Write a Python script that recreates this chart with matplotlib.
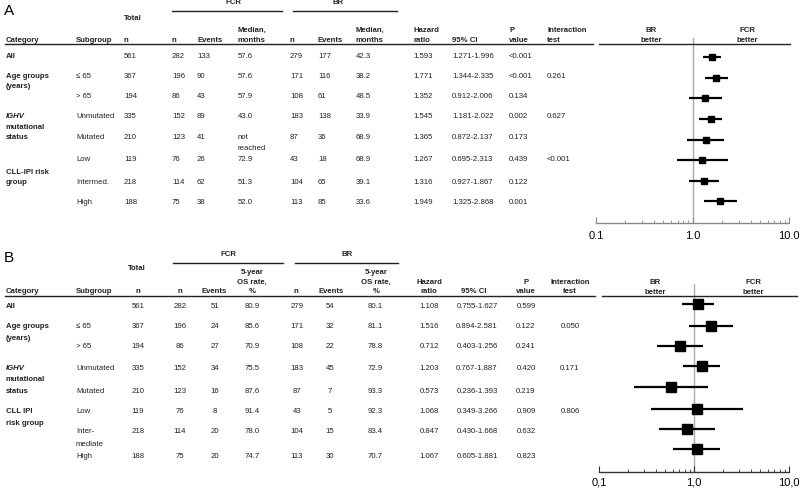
import matplotlib
matplotlib.use("Agg")
import matplotlib.pyplot as plt
from matplotlib.ticker import FixedLocator, FixedFormatter, NullFormatter

plt.rcParams["font.family"] = ["Liberation Sans", "DejaVu Sans"]

W, H = 800, 489

# ---- data, panel A (PFS) ----
subgroups_a = ["", "≤ 65", "> 65", "Unmutated", "Mutated", "Low", "Intermed.", "High"]
total_a = [561, 367, 194, 335, 210, 119, 218, 188]
fcr_n_a = [282, 196, 86, 152, 123, 76, 114, 75]
fcr_ev_a = [133, 90, 43, 89, 41, 26, 62, 38]
fcr_med_a = ["57.6", "57.6", "57.9", "43.0", "not\nreached", "72.9", "51.3", "52.0"]
br_n_a = [279, 171, 108, 183, 87, 43, 104, 113]
br_ev_a = [177, 116, 61, 138, 36, 18, 65, 85]
br_med_a = ["42.3", "38.2", "48.5", "33.9", "68.9", "68.9", "39.1", "33.6"]
hr_a = [1.593, 1.771, 1.352, 1.545, 1.365, 1.267, 1.316, 1.949]
lo_a = [1.271, 1.344, 0.912, 1.181, 0.872, 0.695, 0.927, 1.325]
hi_a = [1.996, 2.335, 2.006, 2.022, 2.137, 2.313, 1.867, 2.868]
p_a = ["<0.001", "<0.001", "0.134", "0.002", "0.173", "0.439", "0.122", "0.001"]
inter_a = ["", "0.261", "", "0.627", "", "<0.001", "", ""]

# ---- data, panel B (OS) ----
subgroups_b = ["", "≤ 65", "> 65", "Unmutated", "Mutated", "Low", "Inter-\nmediate", "High"]
total_b = [561, 367, 194, 335, 210, 119, 218, 188]
fcr_n_b = [282, 196, 86, 152, 123, 76, 114, 75]
fcr_ev_b = [51, 24, 27, 34, 16, 8, 20, 20]
fcr_os_b = ["80.9", "85.6", "70.9", "75.5", "87.6", "91.4", "78.0", "74.7"]
br_n_b = [279, 171, 108, 183, 87, 43, 104, 113]
br_ev_b = [54, 32, 22, 45, 7, 5, 15, 30]
br_os_b = ["80.1", "81.1", "78.8", "72.9", "93.3", "92.3", "83.4", "70.7"]
hr_b = [1.108, 1.516, 0.712, 1.203, 0.573, 1.068, 0.847, 1.067]
lo_b = [0.755, 0.894, 0.403, 0.767, 0.236, 0.349, 0.430, 0.605]
hi_b = [1.627, 2.581, 1.256, 1.887, 1.393, 3.266, 1.668, 1.881]
p_b = ["0.599", "0.122", "0.241", "0.420", "0.219", "0.909", "0.632", "0.823"]
inter_b = ["", "0.050", "", "0.171", "", "0.806", "", ""]

tick_labels_a = ["0.1", "1.0", "10.0"]
tick_labels_b = ["0,1", "1,0", "10,0"]

# ---- layout (pixel rows) ----
rows_a = [57, 76, 96, 117, 138, 160, 182, 203]
marks_a = [58, 79, 99, 120, 141, 161, 182, 202]
rows_b = [306, 327, 347, 368, 392, 412, 432, 457]
marks_b = [305, 327, 347, 367, 388, 410, 430, 450]

FS = 5.6
TXT = "#222222"

fig = plt.figure(figsize=(W / 100, H / 100), dpi=100)


def t(x, y, s, ha="left", bold=False, italic=False, size=FS, color=TXT, lh=11):
    for i, line in enumerate(str(s).split("\n")):
        fig.text(x / W, 1 - (y + i * lh) / H, line, ha=ha, va="center", fontsize=size,
                 fontweight="bold" if bold else "normal",
                 fontstyle="italic" if italic else "normal", color=color)


def hline(x0, x1, y, lw=1.0, color="#222222"):
    fig.add_artist(plt.Line2D([x0 / W, x1 / W], [1 - y / H, 1 - y / H], lw=lw, color=color))


def forest(left, right, top, bottom, hr, lo, hi, ys, msize, labels, axcolor, pad):
    ax = fig.add_axes([left / W, 1 - bottom / H, (right - left) / W, (bottom - top) / H])
    ax.set_xscale("log")
    ax.set_xlim(0.1, 10)
    ax.set_ylim(bottom, top)
    ax.axvline(1, color="#aaaaaa", lw=1, zorder=0)
    for h, l, u, y in zip(hr, lo, hi, ys):
        ax.plot([l, u], [y, y], color="black", lw=1.6, solid_capstyle="butt", clip_on=False)
        ax.plot(h, y, marker="s", ms=msize, color="black", clip_on=False)
    for s in ["top", "left", "right"]:
        ax.spines[s].set_visible(False)
    ax.spines["bottom"].set_color(axcolor)
    ax.spines["bottom"].set_linewidth(1)
    ax.set_yticks([])
    ax.xaxis.set_major_locator(FixedLocator([0.1, 1, 10]))
    ax.xaxis.set_major_formatter(FixedFormatter(labels))
    ax.xaxis.set_minor_locator(FixedLocator([0.2, 0.3, 0.4, 0.5, 0.6, 0.7, 0.8, 0.9,
                                             2, 3, 4, 5, 6, 7, 8, 9]))
    ax.xaxis.set_minor_formatter(NullFormatter())
    ax.tick_params(axis="x", which="major", direction="in", length=4, color=axcolor,
                   labelsize=8, pad=pad)
    ax.tick_params(axis="x", which="minor", direction="in", length=2.5, color=axcolor)
    ax.patch.set_alpha(0)
    return ax


# ================= Panel A =================
t(4, 11, "A", size=11, color="black")
t(124, 18, "Total", bold=True)
t(233, 3, "FCR", ha="center", bold=True)
t(338, 3, "BR", ha="center", bold=True)
hline(172, 282, 12)
hline(293, 397, 12)
t(237, 30, "Median,", bold=True)
t(355, 30, "Median,", bold=True)
t(413, 30, "Hazard", bold=True)
t(509, 30, "P", bold=True)
t(547, 30, "Interaction", bold=True)
for x, s in [(6, "Category"), (76, "Subgroup"), (124, "n"), (172, "n"), (197, "Events"),
             (237, "months"), (290, "n"), (318, "Events"), (355, "months"),
             (413, "ratio"), (452, "95% CI"), (509, "value"), (547, "test")]:
    t(x, 41, s, bold=True)
hline(5, 593, 45)
hline(599, 790, 45)
t(651, 31, "BR", ha="center", bold=True)
t(651, 41, "better", ha="center", bold=True)
t(747, 31, "FCR", ha="center", bold=True)
t(747, 41, "better", ha="center", bold=True)

t(6, rows_a[0], "All", bold=True)
t(6, rows_a[1], "Age groups\n(years)", bold=True, lh=11)
t(6, rows_a[3], "IGHV", bold=True, italic=True)
t(6, rows_a[3] + 10.5, "mutational\nstatus", bold=True, lh=10.5)
t(6, rows_a[5] + 12, "CLL-IPI risk\ngroup", bold=True, lh=10.5)

for i, y in enumerate(rows_a):
    t(76, y, subgroups_a[i])
    t(124, y, total_a[i])
    t(172, y, fcr_n_a[i])
    t(197, y, fcr_ev_a[i])
    t(238, y, fcr_med_a[i], lh=10)
    t(290, y, br_n_a[i])
    t(318, y, br_ev_a[i])
    t(356, y, br_med_a[i])
    t(413, y, f"{hr_a[i]:.3f}")
    t(452, y, f"{lo_a[i]:.3f}-{hi_a[i]:.3f}")
    t(509, y, p_a[i])
    t(547, y, inter_a[i])

forest(596, 789, 39, 224, hr_a, lo_a, hi_a, marks_a, 5, tick_labels_a, "#888888", 5)

# ================= Panel B =================
t(4, 258, "B", size=11, color="black")
t(137, 268, "Total", ha="center", bold=True)
t(228, 255, "FCR", ha="center", bold=True)
t(347, 255, "BR", ha="center", bold=True)
hline(173, 283, 264)
hline(295, 398, 264)
for x in (252, 376):
    t(x, 272, "5-year", ha="center", bold=True)
    t(x, 282, "OS rate,", ha="center", bold=True)
    t(x, 292, "%", ha="center", bold=True)
t(429, 282, "Hazard", ha="center", bold=True)
t(526, 282, "P", ha="center", bold=True)
t(570, 282, "Interaction", ha="center", bold=True)
t(6, 292, "Category", bold=True)
t(76, 292, "Subgroup", bold=True)
for x, s in [(138, "n"), (180, "n"), (214, "Events"), (296, "n"), (331, "Events"),
             (429, "ratio"), (474, "95% CI"), (526, "value"), (570, "test")]:
    t(x, 292, s, ha="center", bold=True)
hline(5, 595, 297)
hline(602, 797, 297)
t(655, 282, "BR", ha="center", bold=True)
t(655, 293, "better", ha="center", bold=True)
t(753, 282, "FCR", ha="center", bold=True)
t(753, 293, "better", ha="center", bold=True)

t(6, rows_b[0], "All", bold=True)
t(6, rows_b[1], "Age groups\n(years)", bold=True, lh=12)
t(6, rows_b[3], "IGHV", bold=True, italic=True)
t(6, rows_b[3] + 12, "mutational\nstatus", bold=True, lh=12)
t(6, rows_b[5], "CLL IPI\nrisk group", bold=True, lh=12)

for i, y in enumerate(rows_b):
    t(76, y, subgroups_b[i], lh=13)
    t(138, y, total_b[i], ha="center")
    t(180, y, fcr_n_b[i], ha="center")
    t(215, y, fcr_ev_b[i], ha="center")
    t(252, y, fcr_os_b[i], ha="center")
    t(297, y, br_n_b[i], ha="center")
    t(330, y, br_ev_b[i], ha="center")
    t(375, y, br_os_b[i], ha="center")
    t(429, y, f"{hr_b[i]:.3f}", ha="center")
    t(477, y, f"{lo_b[i]:.3f}-{hi_b[i]:.3f}", ha="center")
    t(526, y, p_b[i], ha="center")
    t(570, y, inter_b[i], ha="center")

forest(599, 789, 285, 473, hr_b, lo_b, hi_b, marks_b, 6.5, tick_labels_b, "#333333", 3)

fig.savefig("out.png", dpi=100)
